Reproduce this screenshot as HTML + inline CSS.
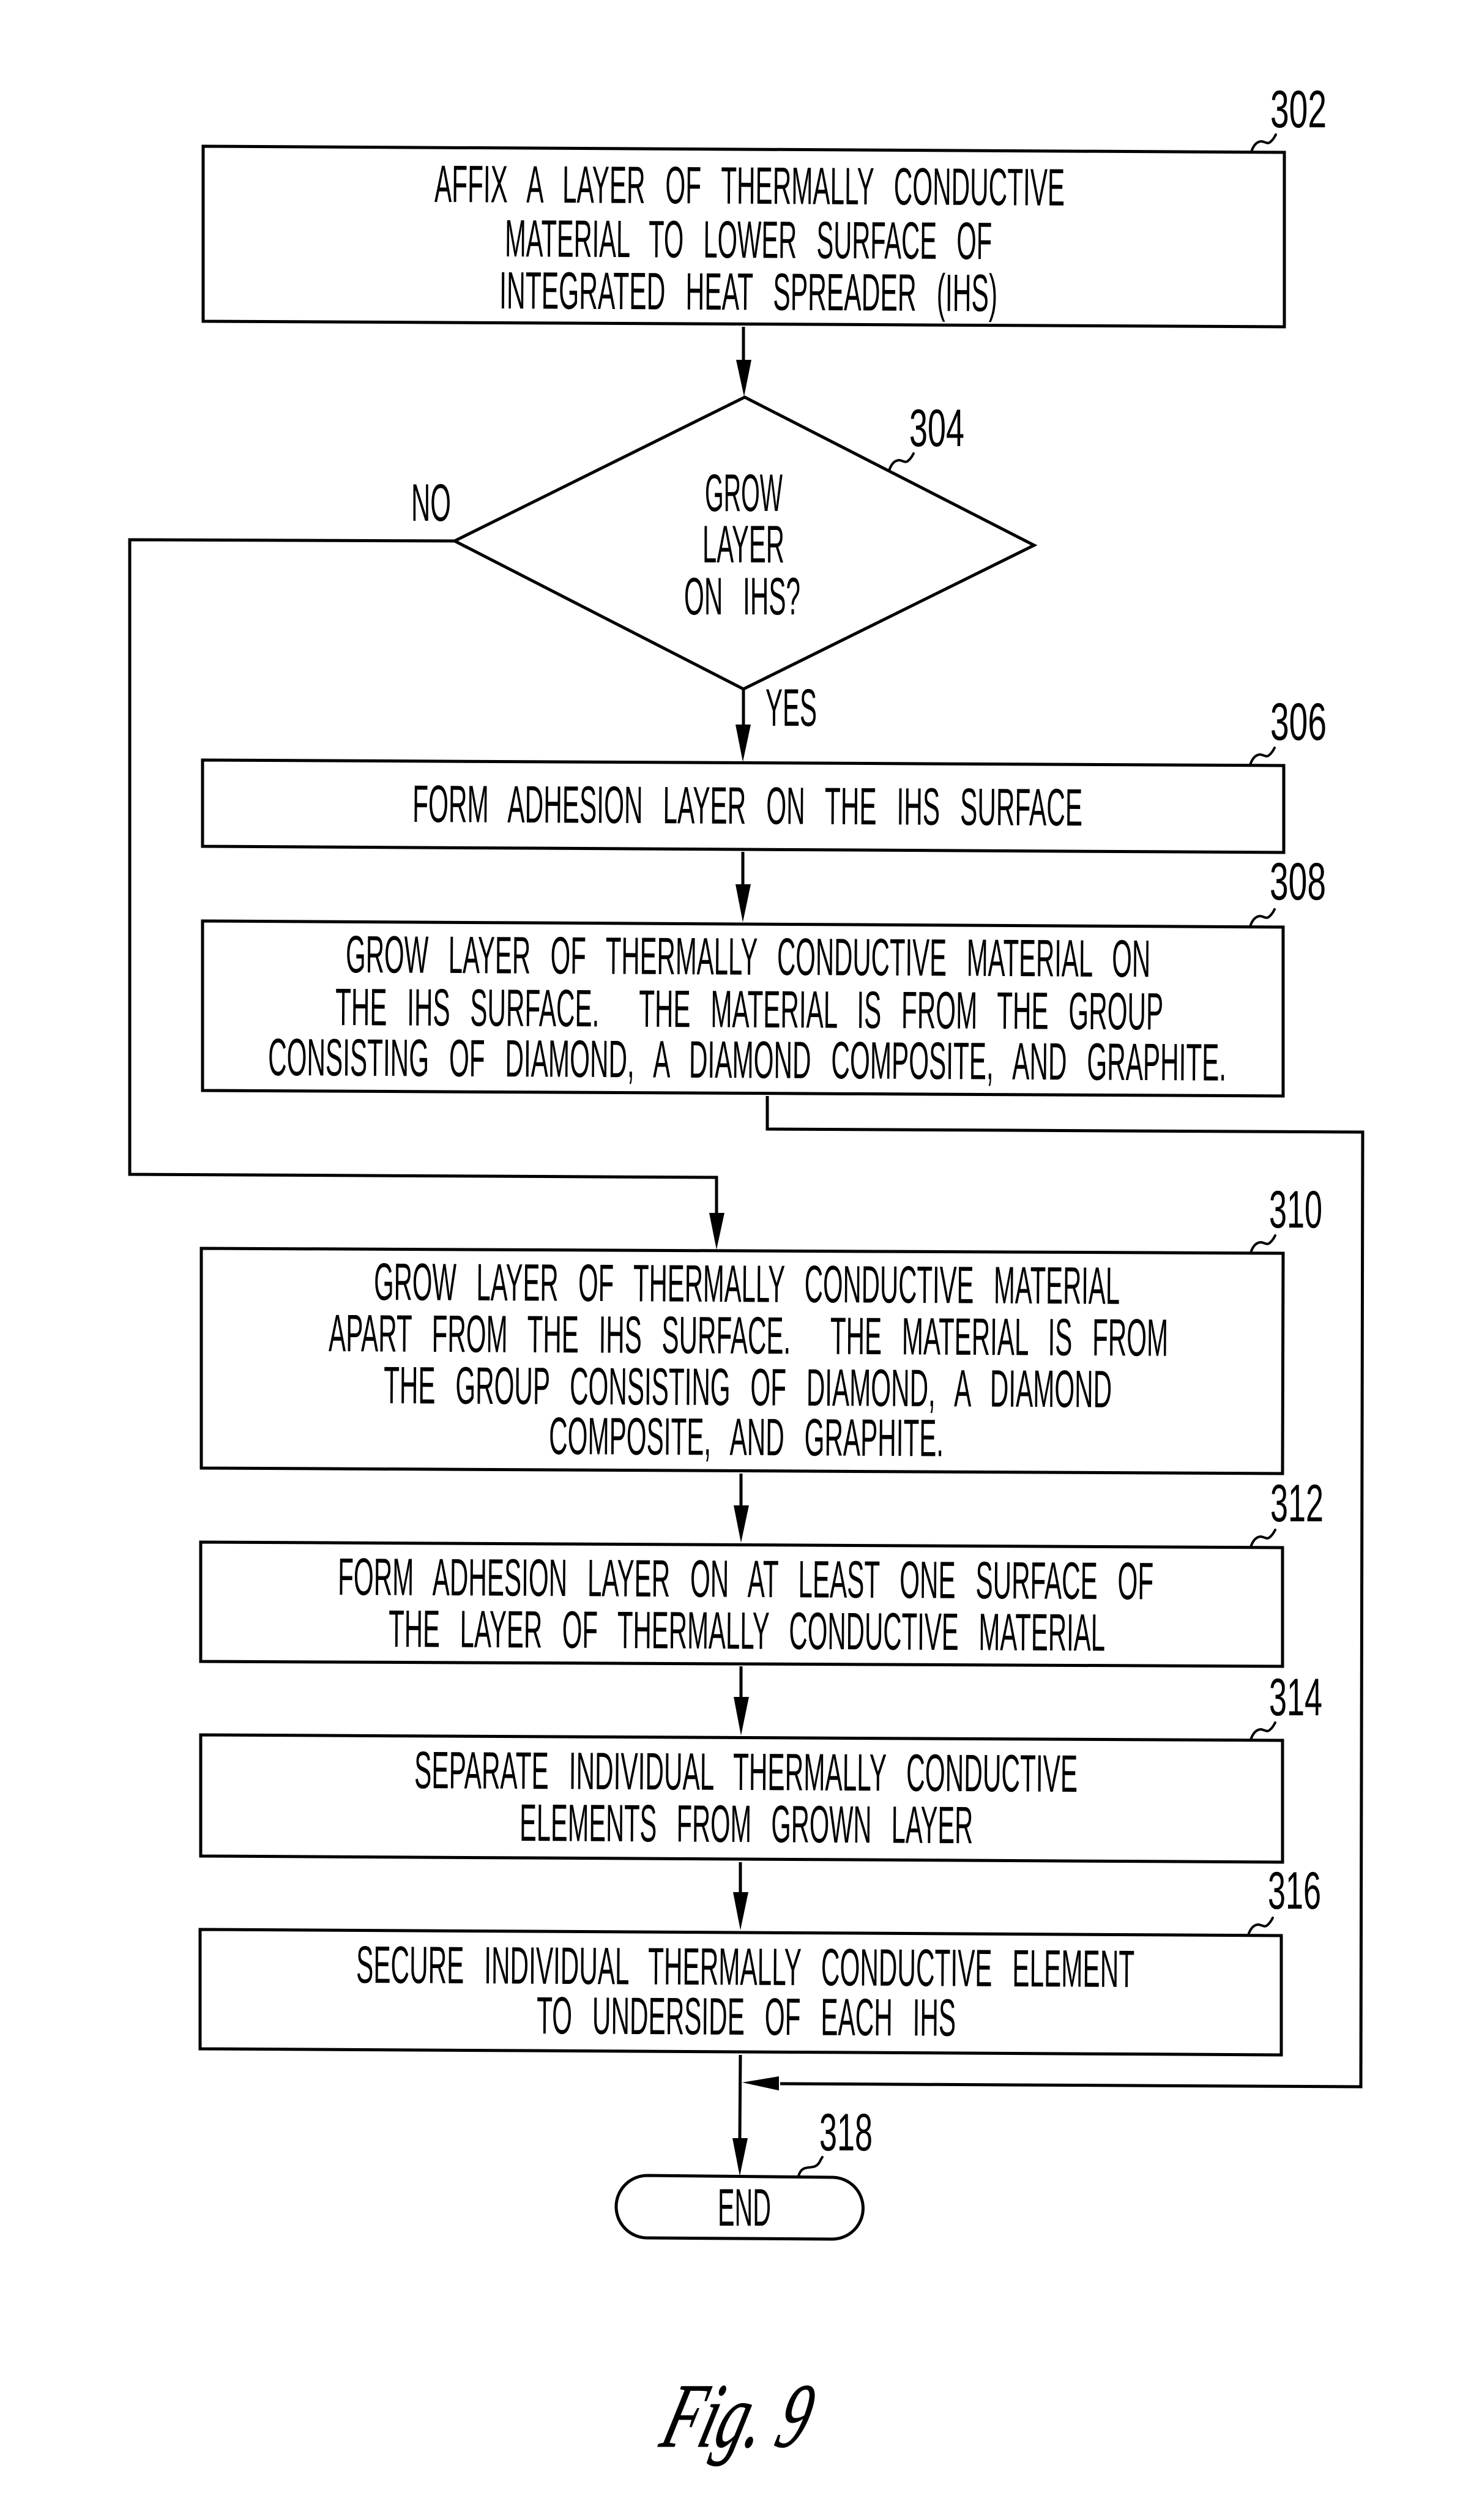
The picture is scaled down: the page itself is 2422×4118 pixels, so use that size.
<!DOCTYPE html>
<html><head><meta charset="utf-8">
<style>
html,body{margin:0;padding:0;background:#fff;width:2422px;height:4118px;overflow:hidden}
svg{display:block}
text{font-family:"Liberation Sans",sans-serif;font-size:86px;fill:#000;word-spacing:.5em;white-space:pre}
.n{word-spacing:0}
.fig{font-family:"Liberation Serif",serif;font-style:italic;font-size:150px;word-spacing:0;stroke:#000;stroke-width:1}
.l{fill:none;stroke:#000;stroke-width:5;stroke-linejoin:miter}
.t{fill:none;stroke:#000;stroke-width:4;stroke-linecap:round}
</style></head><body>
<svg xmlns="http://www.w3.org/2000/svg" width="2422" height="4118" viewBox="0 0 2422 4118">
<rect width="2422" height="4118" fill="#fff"/>
<!-- boxes -->
<polygon class="l" points="332,239 2099,249 2099,534 332,525"/>
<polygon class="l" points="1217,649 1690,891 1215,1126 743,884"/>
<polygon class="l" points="331,1242 2098,1251 2098,1393 331,1383"/>
<polygon class="l" points="331,1505 2097,1515 2097,1791 331,1782"/>
<polygon class="l" points="329,2040 2097,2048 2096,2408 329,2399"/>
<polygon class="l" points="328,2520 2096,2529 2096,2723 328,2715"/>
<polygon class="l" points="328,2835 2096,2844 2096,3043 328,3033"/>
<polygon class="l" points="327,3153 2094,3163 2094,3358 327,3348"/>
<path class="l" d="M1058,3555 L1360,3558 A50,50 0 0 1 1360,3659 L1058,3657 A51,51 0 0 1 1058,3555 Z"/>
<!-- connectors -->
<path class="l" d="M1215,534 V590"/>
<polygon points="1203,588 1228,588 1216,648"/>
<path class="l" d="M1215,1126 V1186"/>
<polygon points="1202,1184 1227,1184 1214,1245"/>
<path class="l" d="M1214,1392 V1447"/>
<polygon points="1202,1445 1227,1445 1214,1507"/>
<path class="l" d="M743,884 L212,882 V1919 L1171,1924 V1984"/>
<polygon points="1159,1982 1184,1982 1171,2042"/>
<path class="l" d="M1254,1791 V1845 L2227,1850 L2224,3410 L1275,3405"/>
<polygon points="1273,3393 1273,3416 1213,3403"/>
<path class="l" d="M1211,2408 V2462"/>
<polygon points="1199,2460 1224,2460 1211,2521"/>
<path class="l" d="M1211,2723 V2775"/>
<polygon points="1199,2773 1224,2773 1211,2836"/>
<path class="l" d="M1210,3043 V3094"/>
<polygon points="1198,3092 1223,3092 1210,3154"/>
<path class="l" d="M1210,3358 L1209,3496"/>
<polygon points="1197,3494 1222,3494 1209,3556"/>
<!-- leaders -->
<path class="t" d="M2045,248 c4,-12 10,-17 17,-17 c6,1 10,5 14,1 c4,-3 7,-8 9,-12"/>
<path class="t" d="M1453,769 c4,-12 10,-17 17,-17 c6,1 10,5 14,1 c4,-3 7,-8 9,-12"/>
<path class="t" d="M2043,1250 c4,-12 10,-17 17,-17 c6,1 10,5 14,1 c4,-3 7,-8 9,-12"/>
<path class="t" d="M2043,1514 c4,-12 10,-17 17,-17 c6,1 10,5 14,1 c4,-3 7,-8 9,-12"/>
<path class="t" d="M2044,2047 c4,-12 10,-17 17,-17 c6,1 10,5 14,1 c4,-3 7,-8 9,-12"/>
<path class="t" d="M2044,2528 c4,-12 10,-17 17,-17 c6,1 10,5 14,1 c4,-3 7,-8 9,-12"/>
<path class="t" d="M2044,2843 c4,-12 10,-17 17,-17 c6,1 10,5 14,1 c4,-3 7,-8 9,-12"/>
<path class="t" d="M2040,3162 c4,-12 10,-17 17,-17 c6,1 10,5 14,1 c4,-3 7,-8 9,-12"/>
<path class="t" d="M1305,3556 C1310,3538 1322,3544 1332,3540 C1340,3536 1340,3530 1344,3525"/>
<!-- box text -->
<text x="710" y="330" textLength="1030" lengthAdjust="spacingAndGlyphs" transform="rotate(.32 710 330)">AFFIX A LAYER OF THERMALLY CONDUCTIVE</text>
<text x="825" y="419" textLength="796" lengthAdjust="spacingAndGlyphs" transform="rotate(.32 825 419)">MATERIAL TO LOWER SURFACE OF</text>
<text x="816" y="504" textLength="814" lengthAdjust="spacingAndGlyphs" transform="rotate(.32 816 504)">INTEGRATED HEAT SPREADER (IHS)</text>
<text class="n" x="1152" y="835" textLength="127" lengthAdjust="spacingAndGlyphs">GROW</text>
<text class="n" x="1148" y="919" textLength="134" lengthAdjust="spacingAndGlyphs">LAYER</text>
<text x="1118" y="1004" textLength="190" lengthAdjust="spacingAndGlyphs">ON IHS?</text>
<text class="n" x="672" y="851" textLength="65" lengthAdjust="spacingAndGlyphs">NO</text>
<text class="n" x="1251" y="1186" textLength="84" lengthAdjust="spacingAndGlyphs">YES</text>
<text x="674" y="1343" textLength="1095" lengthAdjust="spacingAndGlyphs" transform="rotate(.32 674 1343)">FORM ADHESION LAYER ON THE IHS SURFACE</text>
<text x="565" y="1589" textLength="1315" lengthAdjust="spacingAndGlyphs" transform="rotate(.32 565 1589)">GROW LAYER OF THERMALLY CONDUCTIVE MATERIAL ON</text>
<text x="548" y="1675" textLength="1353" lengthAdjust="spacingAndGlyphs" transform="rotate(.32 548 1675)">THE IHS SURFACE.  THE MATERIAL IS FROM THE GROUP</text>
<text x="438" y="1757" textLength="1566" lengthAdjust="spacingAndGlyphs" transform="rotate(.32 438 1757)">CONSISTING OF DIAMOND, A DIAMOND COMPOSITE, AND GRAPHITE.</text>
<text x="611" y="2124" textLength="1219" lengthAdjust="spacingAndGlyphs" transform="rotate(.32 611 2124)">GROW LAYER OF THERMALLY CONDUCTIVE MATERIAL</text>
<text x="537" y="2208" textLength="1372" lengthAdjust="spacingAndGlyphs" transform="rotate(.32 537 2208)">APART FROM THE IHS SURFACE.  THE MATERIAL IS FROM</text>
<text x="627" y="2293" textLength="1190" lengthAdjust="spacingAndGlyphs" transform="rotate(.32 627 2293)">THE GROUP CONSISTING OF DIAMOND, A DIAMOND</text>
<text x="897" y="2376" textLength="645" lengthAdjust="spacingAndGlyphs" transform="rotate(.32 897 2376)">COMPOSITE, AND GRAPHITE.</text>
<text x="552" y="2606" textLength="1333" lengthAdjust="spacingAndGlyphs" transform="rotate(.32 552 2606)">FORM ADHESION LAYER ON AT LEAST ONE SURFACE OF</text>
<text x="635" y="2691" textLength="1171" lengthAdjust="spacingAndGlyphs" transform="rotate(.32 635 2691)">THE LAYER OF THERMALLY CONDUCTIVE MATERIAL</text>
<text x="677" y="2922" textLength="1084" lengthAdjust="spacingAndGlyphs" transform="rotate(.32 677 2922)">SEPARATE INDIVIDUAL THERMALLY CONDUCTIVE</text>
<text x="849" y="3008" textLength="741" lengthAdjust="spacingAndGlyphs" transform="rotate(.32 849 3008)">ELEMENTS FROM GROWN LAYER</text>
<text x="582" y="3240" textLength="1272" lengthAdjust="spacingAndGlyphs" transform="rotate(.32 582 3240)">SECURE INDIVIDUAL THERMALLY CONDUCTIVE ELEMENT</text>
<text x="877" y="3323" textLength="685" lengthAdjust="spacingAndGlyphs" transform="rotate(.32 877 3323)">TO UNDERSIDE OF EACH IHS</text>
<text class="n" x="1173" y="3637" textLength="87" lengthAdjust="spacingAndGlyphs">END</text>
<!-- reference numerals -->
<text class="n" x="2076" y="208" textLength="92" lengthAdjust="spacingAndGlyphs">302</text>
<text class="n" x="1486" y="729" textLength="90" lengthAdjust="spacingAndGlyphs">304</text>
<text class="n" x="2076" y="1209" textLength="92" lengthAdjust="spacingAndGlyphs">306</text>
<text class="n" x="2075" y="1470" textLength="92" lengthAdjust="spacingAndGlyphs">308</text>
<text class="n" x="2074" y="2006" textLength="87" lengthAdjust="spacingAndGlyphs">310</text>
<text class="n" x="2076" y="2486" textLength="87" lengthAdjust="spacingAndGlyphs">312</text>
<text class="n" x="2074" y="2803" textLength="87" lengthAdjust="spacingAndGlyphs">314</text>
<text class="n" x="2072" y="3119" textLength="87" lengthAdjust="spacingAndGlyphs">316</text>
<text class="n" x="1339" y="3514" textLength="87" lengthAdjust="spacingAndGlyphs">318</text>
<text class="fig" x="0" y="0" textLength="236" lengthAdjust="spacingAndGlyphs" transform="translate(1075 3998) skewX(-16)">Fig. 9</text>
</svg>
</body></html>
